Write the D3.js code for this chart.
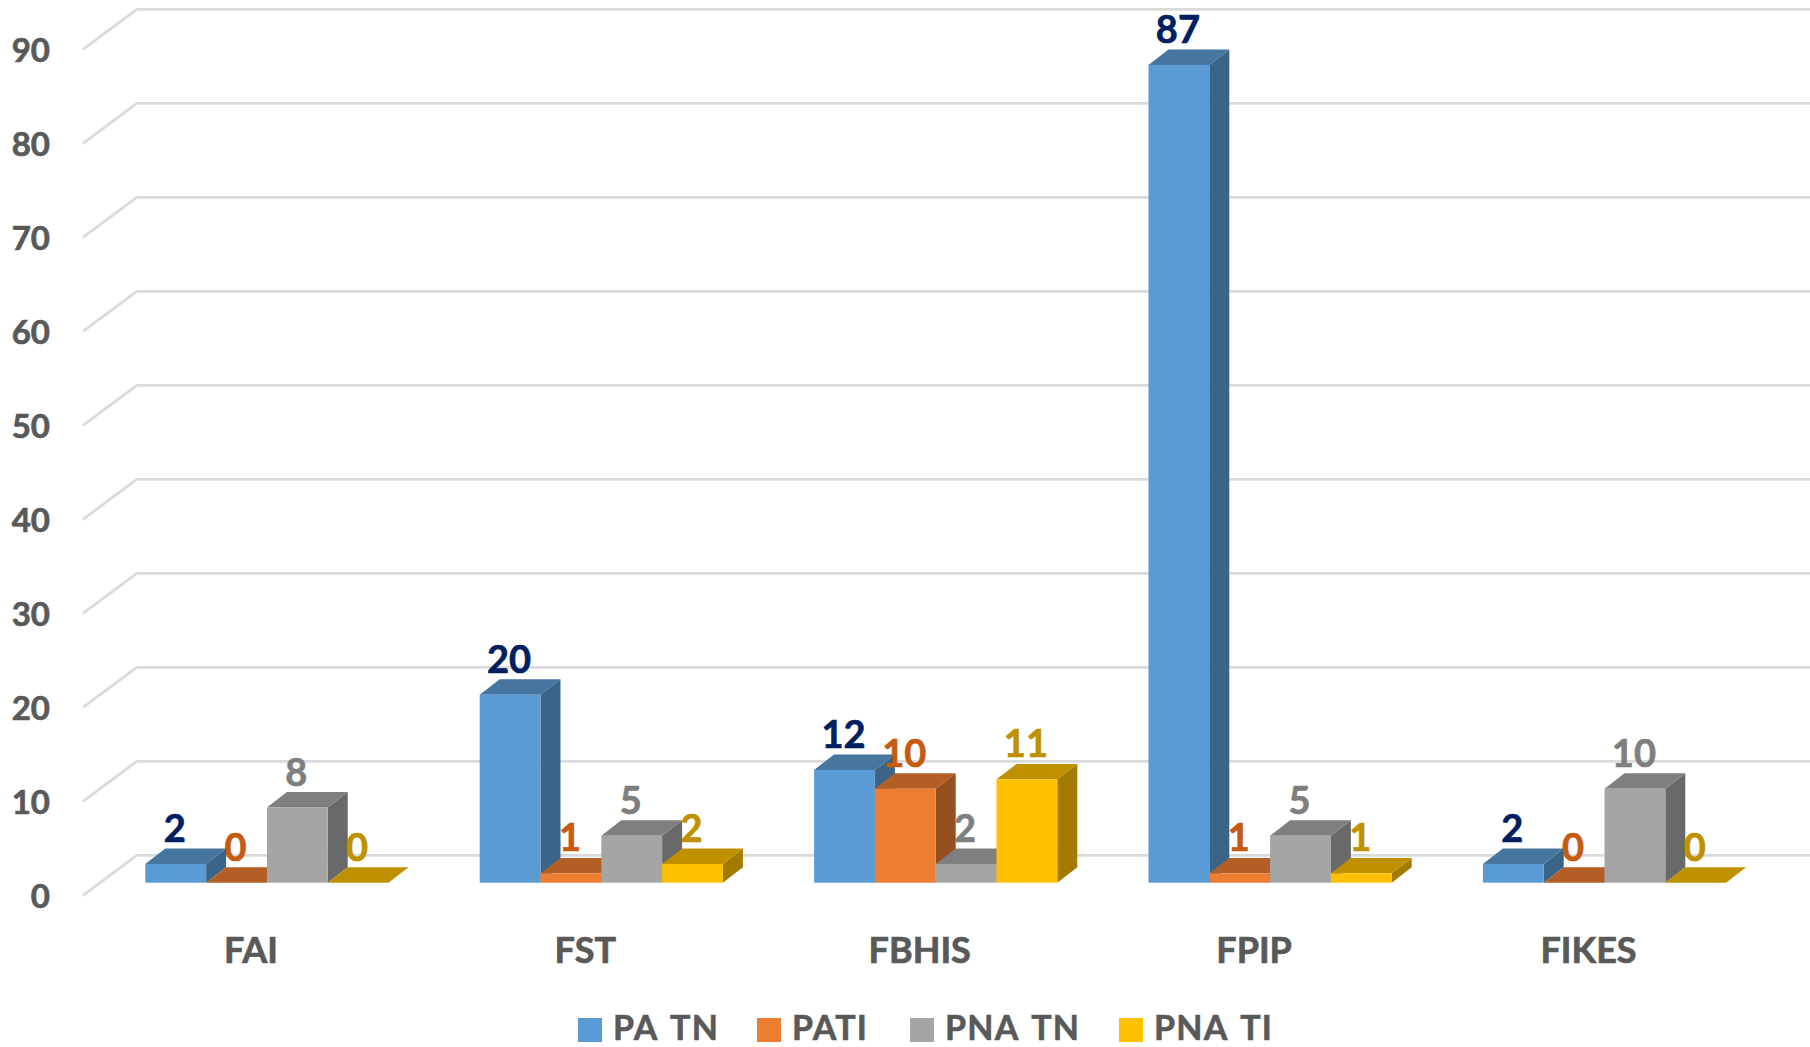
<!DOCTYPE html>
<html><head><meta charset="utf-8">
<style>html,body{margin:0;background:#fff}svg{display:block}text{font-family:Lato,sans-serif;font-weight:700}</style>
<script src="https://cdnjs.cloudflare.com/ajax/libs/d3/7.8.5/d3.min.js"></script>
</head><body><svg id="c" width="1810" height="1047"></svg>
<script>
const categories = ["FAI","FST","FBHIS","FPIP","FIKES"];
const seriesNames = ["PA TN","PATI","PNA TN","PNA TI"];
const paTN  = [2,20,12,87,2];
const paTI  = [0,1,10,1,0];
const pnaTN = [8,5,2,5,10];
const pnaTI = [0,2,11,1,0];
const yTicks = [0,10,20,30,40,50,60,70,80,90];
const frontColors = ["#5B9BD5","#ED7D31","#A5A5A5","#FFC000"];
const topColors   = ["#4675A0","#B35E24","#7F7F7F","#BF9000"];
const sideColors  = ["#3A6589","#964F1F","#696969","#A37B00"];
const labelColors = ["#002060","#C55A11","#7F7F7F","#BF9000"];
const series = [paTN,paTI,pnaTN,pnaTI];

const svg = d3.select("#c");
const dx = 20, dy = 15.4;
const yBase = d3.scaleLinear().domain([0,90]).range([882.7,36.7]);
const x0 = d3.scaleBand().domain(categories).range([145.3,145.3+334.4*5]);
const x1 = d3.scaleBand().domain(seriesNames).range([0,243.2]);

const grid = svg.append("g").attr("fill","none").attr("stroke","#DADADA").attr("stroke-width",2.8);
yTicks.forEach(t=>{
  const yb = yBase(t)-27.4;
  grid.append("path").attr("d",d3.line()([[83,yb+40],[136.7,yb],[1810,yb]]));
});

const barsG = svg.append("g");
categories.forEach((c,i)=>{
  seriesNames.forEach((s,k)=>{
    const v = series[k][i];
    const x = x0(c)+x1(s), w = x1.bandwidth();
    const y = yBase(v), b = yBase(0);
    const g = barsG.append("g");
    g.append("path").attr("fill",sideColors[k]).attr("d",d3.line()([[x+w,y],[x+w+dx,y-dy],[x+w+dx,b-dy],[x+w,b]]));
    g.append("path").attr("fill",topColors[k]).attr("d",d3.line()([[x,y],[x+dx,y-dy],[x+w+dx,y-dy],[x+w,y]]));
    g.append("rect").attr("x",x).attr("y",y).attr("width",w).attr("height",b-y).attr("fill",frontColors[k]);
  });
});

categories.forEach((c,i)=>{
  seriesNames.forEach((s,k)=>{
    const v = series[k][i];
    svg.append("text").attr("x",x0(c)+x1(s)+x1.bandwidth()/2-1).attr("y",yBase(v)-22)
      .attr("text-anchor","middle").attr("font-size",38).attr("fill",labelColors[k])
      .attr("stroke",labelColors[k]).attr("stroke-width",0.7).text(v);
  });
});

const yAxis = d3.axisLeft(yBase.copy().range([897,51])).tickValues(yTicks).tickSize(0).tickPadding(0);
const ya = svg.append("g").attr("transform","translate(50,0)").call(yAxis);
ya.select(".domain").remove();
ya.selectAll("text").attr("font-size",33).attr("fill","#595959").attr("stroke","#595959").attr("stroke-width",0.7).attr("font-family","Lato,sans-serif").attr("font-weight",700);

const xAxis = d3.axisBottom(x0).tickSize(0).tickPadding(0);
const xa = svg.append("g").attr("transform","translate(-16,938)").call(xAxis);
xa.select(".domain").remove();
xa.selectAll("text").attr("dy",0).attr("y",25).attr("font-size",36).attr("fill","#595959").attr("stroke","#595959").attr("stroke-width",0.7).attr("font-family","Lato,sans-serif").attr("font-weight",700);
xa.selectAll(".tick").attr("transform",d=>`translate(${x0(d)+121.6},0)`);

const legendX = [578,757,910,1119];
const leg = svg.append("g");
seriesNames.forEach((s,k)=>{
  leg.append("rect").attr("x",legendX[k]).attr("y",1018).attr("width",24).attr("height",24).attr("fill",frontColors[k]);
  leg.append("text").attr("x",legendX[k]+35).attr("y",1039.5).attr("font-size",34)
    .attr("letter-spacing",1.3).attr("word-spacing",4)
    .attr("fill","#595959").attr("stroke","#595959").attr("stroke-width",0.6).text(s);
});
</script></body></html>
